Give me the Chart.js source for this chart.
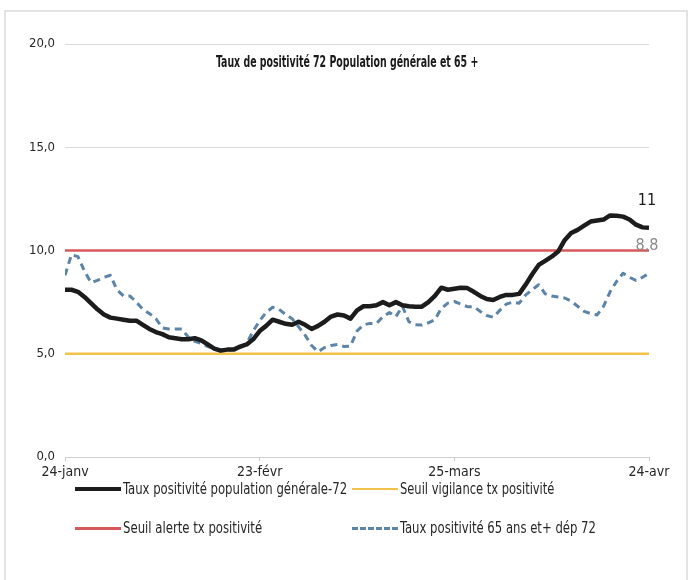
<!DOCTYPE html>
<html lang="fr">
<head>
<meta charset="utf-8">
<title>Taux de positivité 72</title>
<script src="https://cdn.jsdelivr.net/npm/chart.js@4.4.1/dist/chart.umd.min.js"></script>
<style>
  html, body { margin: 0; padding: 0; background: #fff; }
  #wrap { position: relative; width: 694px; height: 580px; overflow: hidden; background: #fff; }
  #frame {
    position: absolute; left: 4px; top: 10px; width: 684px; height: 600px;
    border: 2px solid #e3e3e3; box-sizing: border-box;
  }
  #chart { position: absolute; left: 0; top: 0; }
  .title {
    position: absolute; top: 53px; left: 216px; white-space: nowrap;
    font: bold 15px 'Liberation Sans Narrow', 'DejaVu Sans Condensed', sans-serif; color: #1a1a1a;
    transform-origin: left center;
  }
  .legend { position: absolute; left: 0; top: 0; font: 16px 'Liberation Sans Narrow', 'DejaVu Sans Condensed', sans-serif; color: #262626; }
  .legend .item { position: absolute; white-space: nowrap; height: 20px; }
  .legend .swatch { position: absolute; left: 0; top: 9px; width: 46px; }
  .legend .name { position: absolute; left: 48px; top: 0; line-height: 20px; transform-origin: left center; }
</style>
</head>
<body>
<div id="wrap">
  <div id="frame"></div>
  <canvas id="chart" width="694" height="580"></canvas>
  <div class="title" id="title">Taux de positivité 72 Population générale et 65 +</div>
  <div class="legend" id="legend"></div>
</div>
<script>
'use strict';

/* ── Data ── */
// one value per day, 24 janv (index 0) to 24 avr (index 90)
const generale72 = [
  8.1, 8.1, 8.0, 7.75, 7.45, 7.15, 6.9, 6.75, 6.7, 6.65,
  6.6, 6.6, 6.4, 6.2, 6.05, 5.95, 5.8, 5.75, 5.7, 5.7,
  5.75, 5.65, 5.45, 5.25, 5.15, 5.2, 5.2, 5.35, 5.45, 5.7,
  6.1, 6.35, 6.65, 6.55, 6.45, 6.4, 6.55, 6.4, 6.2, 6.35,
  6.55, 6.8, 6.9, 6.85, 6.7, 7.1, 7.3, 7.3, 7.35, 7.5,
  7.35, 7.5, 7.35, 7.3, 7.28, 7.28, 7.5, 7.8, 8.2, 8.1,
  8.15, 8.2, 8.18, 8.0, 7.8, 7.65, 7.6, 7.75, 7.85, 7.85,
  7.9, 8.35, 8.85, 9.3, 9.5, 9.7, 9.95, 10.5, 10.85, 11.0,
  11.2, 11.4, 11.45, 11.5, 11.7, 11.68, 11.64, 11.5, 11.25, 11.12,
  11.1
];
const plus65dep72 = [
  8.8, 9.8, 9.7, 9.0, 8.45, 8.55, 8.7, 8.8, 8.1, 7.8,
  7.8, 7.5, 7.15, 6.95, 6.7, 6.25, 6.2, 6.2, 6.2, 5.8,
  5.6, 5.5, 5.35, 5.25, 5.2, 5.17, 5.2, 5.3, 5.5, 6.1,
  6.6, 7.0, 7.25, 7.15, 6.9, 6.7, 6.3, 5.9, 5.4, 5.1,
  5.3, 5.4, 5.45, 5.35, 5.37, 6.1, 6.4, 6.47, 6.47, 6.8,
  7.0, 6.8, 7.3, 6.55, 6.4, 6.39, 6.5, 6.65, 7.2, 7.45,
  7.53, 7.4, 7.28, 7.28, 7.05, 6.85, 6.77, 7.1, 7.4, 7.5,
  7.45, 7.85, 8.1, 8.34, 7.9, 7.8, 7.75, 7.7, 7.55, 7.3,
  7.05, 6.95, 6.88, 7.3, 8.0, 8.5, 8.9, 8.7, 8.55, 8.7,
  8.9
];
const seuilVigilance = 5;
const seuilAlerte = 10;

const xTickPos = [0, 30, 60, 90];
const xTickLabels = ['24-janv', '23-févr', '25-mars', '24-avr'];
const yTicks = [0, 5, 10, 15, 20];

const endLabelText = ['11', '8,8'];

const seriesNames = [
  'Taux positivité population générale-72',
  'Seuil vigilance tx positivité',
  'Seuil alerte tx positivité',
  'Taux positivité 65 ans et+ dép 72',
];

/* ── Styles ── */
const COLORS = {
  black: '#1c1c1c',
  yellow: '#f2c24a',
  red: '#d6585a',
  blue: '#5b84a8',
  grid: '#d9d9d9',
  tick: '#262626',
};
const FONT = "'Liberation Sans Narrow', 'DejaVu Sans Condensed', sans-serif";

Chart.defaults.font.family = FONT;
Chart.defaults.color = COLORS.tick;

const toPoints = arr => arr.map((v, i) => ({ x: i, y: v }));
const lastIdx = generale72.length - 1;

/* ── End-of-line value labels ── */
const endLabels = {
  id: 'endLabels',
  afterDatasetsDraw(chart) {
    const ctx = chart.ctx;
    const spec = [
      { ds: 0, text: endLabelText[0], color: '#1a1a1a' },
      { ds: 3, text: endLabelText[1], color: '#8a8a8a' },
    ];
    spec.forEach(s => {
      const pts = chart.getDatasetMeta(s.ds).data;
      const p = pts[pts.length - 1];
      ctx.save();
      ctx.font = '16px ' + FONT;
      ctx.fillStyle = s.color;
      ctx.textAlign = 'center';
      ctx.textBaseline = 'middle';
      ctx.fillText(s.text, p.x - 2, p.y - 27);
      ctx.restore();
    });
  }
};

new Chart(document.getElementById('chart'), {
  type: 'line',
  data: {
    datasets: [
      {
        label: seriesNames[0],
        data: toPoints(generale72),
        borderColor: COLORS.black,
        borderWidth: 4.5,
        order: 0,
      },
      {
        label: seriesNames[1],
        data: [{ x: 0, y: seuilVigilance }, { x: lastIdx, y: seuilVigilance }],
        borderColor: COLORS.yellow,
        borderWidth: 2.5,
        order: 3,
      },
      {
        label: seriesNames[2],
        data: [{ x: 0, y: seuilAlerte }, { x: lastIdx, y: seuilAlerte }],
        borderColor: COLORS.red,
        borderWidth: 2.5,
        order: 2,
      },
      {
        label: seriesNames[3],
        data: toPoints(plus65dep72),
        borderColor: COLORS.blue,
        borderWidth: 3,
        borderDash: [7, 5],
        order: 1,
      },
    ],
  },
  options: {
    responsive: false,
    animation: false,
    events: [],
    elements: {
      point: { radius: 0 },
      line: { tension: 0, fill: false, borderCapStyle: 'butt', borderJoinStyle: 'round' },
    },
    layout: { padding: { left: 10, right: 45, top: 44, bottom: 93 } },
    plugins: {
      legend: { display: false },
      title: { display: false },
      tooltip: { enabled: false },
    },
    scales: {
      x: {
        type: 'linear',
        min: 0,
        max: lastIdx,
        afterBuildTicks: scale => { scale.ticks = xTickPos.map(v => ({ value: v })); },
        afterFit: scale => { scale.height = 30; },
        ticks: {
          autoSkip: false,
          maxRotation: 0,
          padding: 3,
          font: { size: 14 },
          color: COLORS.tick,
          callback: v => xTickLabels[xTickPos.indexOf(v)],
        },
        grid: { drawOnChartArea: false, tickLength: 4, color: '#c8c8c8' },
        border: { color: '#d0d0d0', width: 1 },
      },
      y: {
        min: 0,
        max: 20,
        afterBuildTicks: scale => { scale.ticks = yTicks.map(v => ({ value: v })); },
        afterFit: scale => { scale.width = 55; },
        ticks: {
          padding: 10,
          font: { size: 13 },
          color: COLORS.tick,
          callback: v => v.toFixed(1).replace('.', ','),
        },
        grid: { color: COLORS.grid, drawTicks: false },
        border: { display: false },
      },
    },
  },
  plugins: [endLabels],
});

/* ── Title, squeezed to the reference width ── */
const titleEl = document.getElementById('title');
titleEl.style.transform = `scaleX(${262 / titleEl.offsetWidth})`;

/* ── Legend (2 x 2 grid) ── */
const legendItems = [
  { name: seriesNames[0], left: 75, top: 479, w: 224, swatch: `border-top:4px solid ${COLORS.black};margin-top:-1px` },
  { name: seriesNames[1], left: 352, top: 479, w: 154, swatch: `border-top:2px solid ${COLORS.yellow}` },
  { name: seriesNames[2], left: 75, top: 518, w: 139, swatch: `border-top:3px solid ${COLORS.red}` },
  { name: seriesNames[3], left: 352, top: 518, w: 196, swatch: `border-top:3px dashed ${COLORS.blue}` },
];
const legendEl = document.getElementById('legend');
legendEl.innerHTML = legendItems.map(it =>
  `<div class="item" style="left:${it.left}px;top:${it.top}px">
     <span class="swatch" style="${it.swatch}"></span><span class="name">${it.name}</span>
   </div>`
).join('');
legendEl.querySelectorAll('.name').forEach((el, i) => {
  el.style.transform = `scaleX(${legendItems[i].w / el.offsetWidth})`;
});
</script>
</body>
</html>
